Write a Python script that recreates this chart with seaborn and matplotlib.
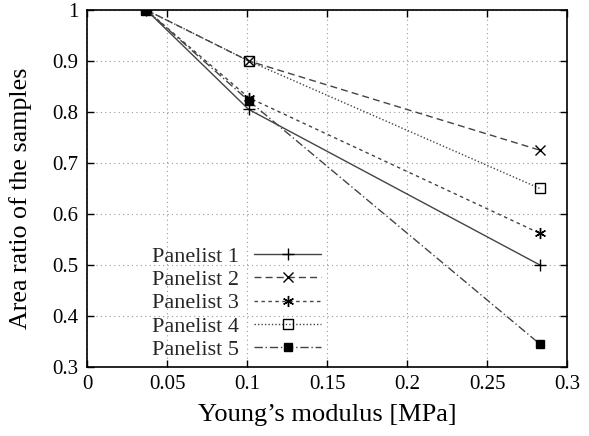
import matplotlib
matplotlib.use("Agg")
import matplotlib.pyplot as plt
import seaborn as sns
import pandas as pd

# ── данные ────────────────────────────────────────────────────────────────────
young = [0.037, 0.101, 0.283]
panelist_1 = [1.0, 0.805, 0.500]
panelist_2 = [1.0, 0.900, 0.725]
panelist_3 = [1.0, 0.828, 0.562]
panelist_4 = [1.0, 0.900, 0.650]
panelist_5 = [1.0, 0.822, 0.345]
labels = ["Panelist 1", "Panelist 2", "Panelist 3", "Panelist 4", "Panelist 5"]

series = [panelist_1, panelist_2, panelist_3, panelist_4, panelist_5]
styles = [
    dict(marker="+", linestyle="-", ms=9, mfc="none"),
    dict(marker="x", linestyle=(0, (5, 3)), ms=7, mfc="none"),
    dict(marker=(6, 2, 0), linestyle=(0, (2.5, 2.5)), ms=8, mfc="none"),
    dict(marker="s", linestyle=(0, (1, 1.5)), ms=7, mfc="none"),
    dict(marker="s", linestyle=(0, (6, 2, 1, 2)), ms=6, mfc="black"),
]

sns.set_theme(style="ticks")
plt.rcParams["font.family"] = ["Liberation Serif", "DejaVu Serif"]

fig = plt.figure(figsize=(5.89, 4.36), dpi=100)
ax = fig.add_axes([0.1477, 0.1583, 0.815, 0.819])

for vals, lab, st in zip(series, labels, styles):
    df = pd.DataFrame({"x": young, "y": vals})
    sns.lineplot(data=df, x="x", y="y", ax=ax, color="#444444", lw=1.0,
                 marker=st["marker"], linestyle=st["linestyle"],
                 markersize=st["ms"], markerfacecolor=st["mfc"],
                 markeredgecolor="black", markeredgewidth=1.0, label=lab)

ax.set_xlim(0, 0.3)
ax.set_ylim(0.3, 1.0)
ax.set_xticks([0, 0.05, 0.1, 0.15, 0.2, 0.25, 0.3])
ax.set_xticklabels(["0", "0.05", "0.1", "0.15", "0.2", "0.25", "0.3"])
ax.set_yticks([0.3, 0.4, 0.5, 0.6, 0.7, 0.8, 0.9, 1.0])
ax.set_yticklabels(["0.3", "0.4", "0.5", "0.6", "0.7", "0.8", "0.9", "1"])
ax.tick_params(direction="in", top=True, right=True, length=5, width=1.0,
               labelsize=15, colors="black", pad=6)
ax.grid(True, linestyle=(0, (1, 3)), color="#999999", lw=0.8)
for sp in ax.spines.values():
    sp.set_color("black")
    sp.set_linewidth(1.2)

ax.set_xlabel("Young’s modulus [MPa]", fontsize=19, color="black", labelpad=7)
ax.set_ylabel("Area ratio of the samples", fontsize=18.7, color="black")
ax.yaxis.set_label_coords(-0.115, 0.473)

ax.legend(loc="lower left", bbox_to_anchor=(0.135, 0.02), frameon=False,
          markerfirst=False, fontsize=16, handlelength=3.0,
          labelspacing=0.12, handletextpad=0.7, borderaxespad=0.0,
          borderpad=0.0)

plt.savefig("out.png", dpi=100)
plt.close()
